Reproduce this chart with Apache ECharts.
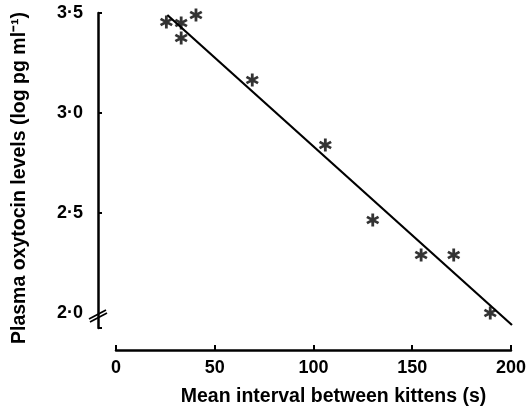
<!DOCTYPE html>
<html>
<head>
<meta charset="utf-8">
<script src="https://cdn.jsdelivr.net/npm/echarts@6/dist/echarts.min.js"></script>
<style>
  html, body { margin: 0; padding: 0; background: #fff; }
  #main { width: 529px; height: 416px; }
</style>
</head>
<body>
<div id="main"></div>
<script>
// data
var intervals = [25.5, 33, 33, 40.5, 69, 106, 130, 154.5, 171, 189.5];
var oxytocin = [3.455, 3.45, 3.375, 3.49, 3.165, 2.84, 2.465, 2.29, 2.29, 2.0];
var fitX = [26, 200.5];
var fitY = [3.49, 1.94];
var xTicks = [0, 50, 100, 150, 200];
var yTicks = [2, 2.5, 3, 3.5];

// six-armed asterisk, arms drawn as bars
var star = 'path://M7.9 0L12.1 0L12.1 20L7.9 20Z' +
    'M0.26 6.91L2.36 3.27L19.74 13.09L17.64 16.73Z' +
    'M2.36 16.73L0.26 13.09L17.64 3.27L19.74 6.91Z';

var points = intervals.map(function (x, i) { return [x, oxytocin[i]]; });
var fit = fitX.map(function (x, i) { return [x, fitY[i]]; });

var font = 'Liberation Sans';
var myChart = echarts.init(document.getElementById('main'));
var option = {
    animation: false,
    grid: { left: 116, right: 12, top: 13, bottom: 88 },
    xAxis: {
        type: 'value',
        min: 0, max: 200, interval: 50,
        offset: 22,
        name: 'Mean interval between kittens (s)',
        nameLocation: 'middle',
        nameGap: 37,
        nameTextStyle: { fontFamily: font, fontSize: 19.5, fontWeight: 'bold', color: '#000', padding: [0, 0, 0, 40] },
        axisLine: { onZero: false, lineStyle: { color: '#000', width: 2.5 } },
        axisTick: { inside: true, length: 5, customValues: xTicks, lineStyle: { color: '#000', width: 2 } },
        axisLabel: { fontFamily: font, fontSize: 18, fontWeight: 'bold', color: '#000', margin: 9, customValues: xTicks },
        splitLine: { show: false }
    },
    yAxis: {
        type: 'value',
        min: 1.925, max: 3.5,
        offset: 18,
        name: 'Plasma oxytocin levels (log pg ml\u207B\u00B9)',
        nameLocation: 'middle',
        nameGap: 68,
        nameTextStyle: { fontFamily: font, fontSize: 19.5, fontWeight: 'bold', color: '#000', padding: [0, 15, 0, 0] },
        axisLine: { show: true, onZero: false, lineStyle: { color: '#000', width: 2.5 } },
        axisTick: { show: true, inside: true, length: 4, customValues: [1.925, 2.5, 3, 3.5], lineStyle: { color: '#000', width: 2 } },
        axisLabel: {
            fontFamily: font, fontSize: 18, fontWeight: 'bold', color: '#000', margin: 15,
            customValues: yTicks,
            formatter: function (v) { return v.toFixed(1).replace('.', '\u00B7'); }
        },
        splitLine: { show: false }
    },
    series: [{
        type: 'scatter',
        data: points,
        symbol: star,
        symbolSize: 13,
        itemStyle: { color: '#000' }
    }, {
        type: 'line',
        data: fit,
        showSymbol: false,
        symbol: 'none',
        lineStyle: { color: '#000', width: 2.2 }
    }]
};
myChart.setOption(option);

// axis break mark just below 2.0
var p = myChart.convertToPixel({ gridIndex: 0 }, [0, 1.985]);
var ax = p[0] - 18;
var by = p[1];
myChart.setOption({
    graphic: [
        { type: 'rect', shape: { x: ax - 3, y: by - 2, width: 6, height: 4 }, style: { fill: '#fff' } },
        { type: 'line', shape: { x1: ax - 9, y1: by + 3, x2: ax + 8, y2: by - 6 }, style: { stroke: '#000', lineWidth: 1.8 } },
        { type: 'line', shape: { x1: ax - 8, y1: by + 6, x2: ax + 9, y2: by - 3 }, style: { stroke: '#000', lineWidth: 1.8 } }
    ]
});
</script>
</body>
</html>
